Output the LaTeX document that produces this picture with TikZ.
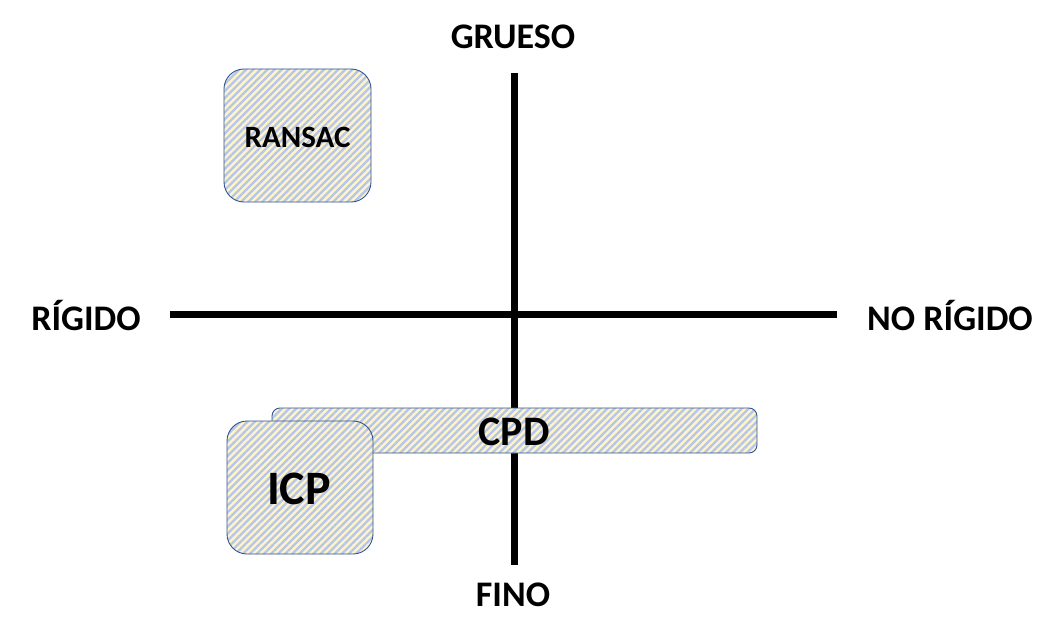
\documentclass[tikz,border=0pt]{standalone}
\usepackage{fontspec}
\setmainfont{Carlito}
\usetikzlibrary{patterns.meta}
\definecolor{cream}{HTML}{FFF2CC}
\definecolor{stripe}{HTML}{B4C7E7}
\definecolor{edge}{HTML}{2F5597}
\tikzset{
  axis/.style={line width=7pt},
  axlabel/.style={font=\bfseries\fontsize{36}{38}\selectfont, inner sep=0pt},
  hatched/.style={draw=edge, line width=0.9pt,
    preaction={fill=cream},
    pattern={Lines[angle=45,distance=5pt,line width=2.3pt]}, pattern color=stripe}
}
\begin{document}
\begin{tikzpicture}[x=1pt,y=-1pt]
\useasboundingbox (0,0) rectangle (1057,634);
% axes
\coordinate (L) at (170,314);
\coordinate (R) at (837,314);
\coordinate (T) at (514,73);
\coordinate (B) at (514,565);
\draw[axis] (L) -- (R);
\draw[axis] (T) -- (B);
% axis labels
\node[axlabel] (grueso) at (513,37) {GRUESO};
\node[axlabel] (fino) at (513,595) {FINO};
\node[axlabel] (rigido) at (86,316) {RÍGIDO};
\node[axlabel] (norigido) at (950,316) {NO RÍGIDO};
% boxes
\draw[hatched, rounded corners=20pt] (224,69) rectangle (371,202);
\node[font=\bfseries\fontsize{31}{33}\selectfont] (ransac) at (297.5,137) {RANSAC};
\draw[hatched, rounded corners=8pt] (272,408) rectangle (757,453);
\node[font=\bfseries\fontsize{42}{44}\selectfont] (cpd) at (514,432) {CPD};
\draw[hatched, rounded corners=20pt] (227,421) rectangle (373,554);
\node[font=\bfseries\fontsize{48}{50}\selectfont] (icp) at (299,489) {ICP};
\end{tikzpicture}
\end{document}
